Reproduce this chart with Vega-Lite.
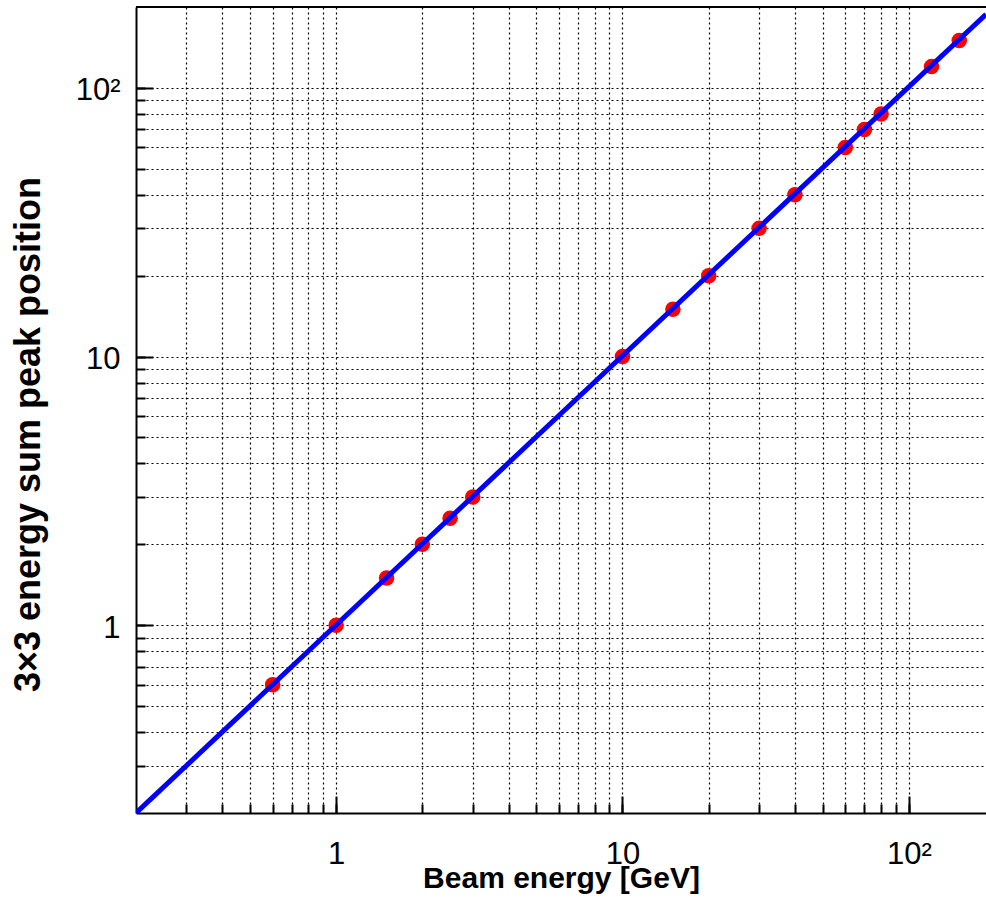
{
  "$schema": "https://vega.github.io/schema/vega-lite/v6.json",
  "width": 850,
  "height": 806,
  "autosize": {"type": "none"},
  "padding": {"left": 136, "top": 7, "right": 0, "bottom": 88},
  "background": "white",
  "config": {
    "view": {"stroke": null},
    "axis": {"labelFont": "Liberation Sans", "titleFont": "Liberation Sans"}
  },
  "datasets": {
    "pts": [
      {"E": 0.6, "peak": 0.6},
      {"E": 1, "peak": 1},
      {"E": 1.5, "peak": 1.5},
      {"E": 2, "peak": 2},
      {"E": 2.5, "peak": 2.5},
      {"E": 3, "peak": 3},
      {"E": 10, "peak": 10},
      {"E": 15, "peak": 15},
      {"E": 20, "peak": 20},
      {"E": 30, "peak": 30},
      {"E": 40, "peak": 40},
      {"E": 60, "peak": 60},
      {"E": 70, "peak": 70},
      {"E": 80, "peak": 80},
      {"E": 120, "peak": 120},
      {"E": 150, "peak": 150}
    ],
    "fit": [
      {"E": 0.2, "peak": 0.2},
      {"E": 186, "peak": 188}
    ]
  },
  "layer": [
    {
      "data": {"name": "pts"},
      "mark": {"type": "point", "filled": true, "shape": "circle", "size": 240, "color": "#ff0000", "opacity": 1},
      "encoding": {
        "x": {
          "field": "E", "type": "quantitative",
          "scale": {"type": "log", "domain": [0.2, 186], "nice": false, "zero": false},
          "axis": {
            "orient": "bottom",
            "values": [0.3, 0.4, 0.5, 0.6, 0.7, 0.8, 0.9, 1, 2, 3, 4, 5, 6, 7, 8, 9, 10, 20, 30, 40, 50, 60, 70, 80, 90, 100],
            "labels": false, "domain": false, "ticks": true, "tickSize": -9, "tickColor": "black", "tickWidth": 2,
            "grid": true, "gridColor": "black", "gridDash": [2, 3], "gridWidth": 1.2, "gridOpacity": 1,
            "title": null
          }
        },
        "y": {
          "field": "peak", "type": "quantitative",
          "scale": {"type": "log", "domain": [0.2, 200], "nice": false, "zero": false},
          "axis": {
            "orient": "left",
            "values": [0.3, 0.4, 0.5, 0.6, 0.7, 0.8, 0.9, 1, 2, 3, 4, 5, 6, 7, 8, 9, 10, 20, 30, 40, 50, 60, 70, 80, 90, 100],
            "labels": false, "domain": false, "ticks": true, "tickSize": -9, "tickColor": "black", "tickWidth": 2,
            "grid": true, "gridColor": "black", "gridDash": [2, 3], "gridWidth": 1.2, "gridOpacity": 1,
            "title": null
          }
        }
      }
    },
    {
      "data": {"name": "fit"},
      "mark": {"type": "line", "color": "#0000ff", "strokeWidth": 5, "clip": true},
      "encoding": {
        "x": {
          "field": "E", "type": "quantitative",
          "scale": {"type": "log", "domain": [0.2, 186], "nice": false, "zero": false},
          "axis": {
            "orient": "bottom",
            "values": [1, 10, 100],
            "grid": false, "domain": true, "domainColor": "black", "domainWidth": 2,
            "ticks": true, "tickSize": -17, "tickWidth": 2, "tickColor": "black",
            "labelFontSize": 31, "labelColor": "black", "labelPadding": 43,
            "labelExpr": "datum.value == 100 ? '10²' : datum.value == 10 ? '10' : '1'",
            "labelFlush": false, "labelOverlap": false, "labelBaseline": "top",
            "title": "Beam energy [GeV]", "titleFontSize": 30, "titleFontWeight": "bold", "titleColor": "black",
            "titleY": 74, "titleBaseline": "alphabetic"
          }
        },
        "y": {
          "field": "peak", "type": "quantitative",
          "scale": {"type": "log", "domain": [0.2, 200], "nice": false, "zero": false},
          "axis": {
            "orient": "left",
            "values": [1, 10, 100],
            "grid": false, "domain": true, "domainColor": "black", "domainWidth": 2,
            "ticks": true, "tickSize": -17, "tickWidth": 2, "tickColor": "black",
            "labelFontSize": 31, "labelColor": "black", "labelPadding": 33, "labelOffset": 3,
            "labelExpr": "datum.value == 100 ? '10²' : datum.value == 10 ? '10' : '1'",
            "labelFlush": false, "labelOverlap": false,
            "title": "3×3 energy sum peak position", "titleFontSize": 36, "titleFontWeight": "bold", "titleColor": "black",
            "titleX": -97, "titleY": 427, "titleAngle": -90, "titleAlign": "center", "titleBaseline": "alphabetic"
          }
        }
      }
    },
    {
      "data": {"values": [{}]},
      "mark": {"type": "rule", "color": "black", "strokeWidth": 2},
      "encoding": {"y": {"datum": 200, "type": "quantitative", "axis": null}}
    }
  ],
  "resolve": {"axis": {"x": "independent", "y": "independent"}}
}
